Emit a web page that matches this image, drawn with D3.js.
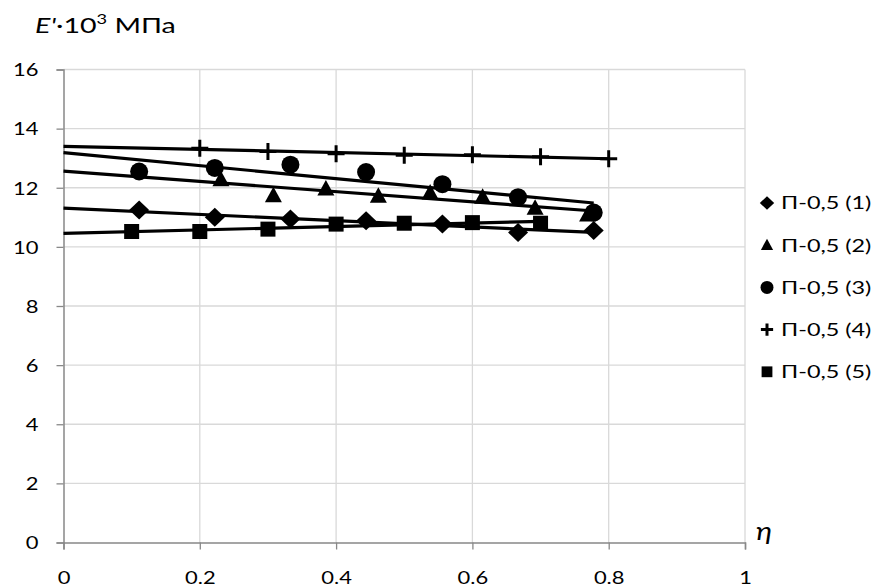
<!DOCTYPE html>
<html>
<head>
<meta charset="utf-8">
<script src="https://cdn.jsdelivr.net/npm/d3@7"></script>
<style>
  html, body { margin: 0; padding: 0; background: #fff; }
  svg { display: block; }
  text { font-family: Lato, "Open Sans", sans-serif; fill: #000; }
</style>
</head>
<body>
<script>
// ---- data ----
const seriesNames = ["П-0,5 (1)", "П-0,5 (2)", "П-0,5 (3)", "П-0,5 (4)", "П-0,5 (5)"];
const symbols = ["diamond", "triangle", "circle", "plus", "square"];
const eta1 = [0.111, 0.222, 0.333, 0.444, 0.556, 0.667, 0.778];
const val1 = [11.25, 11.0, 10.94, 10.88, 10.77, 10.49, 10.55];
const eta2 = [0.231, 0.308, 0.385, 0.462, 0.538, 0.615, 0.692, 0.769];
const val2 = [12.27, 11.73, 11.96, 11.71, 11.82, 11.68, 11.31, 11.08];
const eta3 = [0.111, 0.222, 0.333, 0.444, 0.556, 0.667, 0.778];
const val3 = [12.55, 12.67, 12.78, 12.53, 12.12, 11.68, 11.16];
const eta4 = [0.2, 0.3, 0.4, 0.5, 0.6, 0.7, 0.8];
const val4 = [13.34, 13.23, 13.15, 13.10, 13.12, 13.05, 12.98];
const eta5 = [0.1, 0.2, 0.3, 0.4, 0.5, 0.6, 0.7];
const val5 = [10.52, 10.52, 10.60, 10.77, 10.80, 10.82, 10.80];
const xTicks = [0, 0.2, 0.4, 0.6, 0.8, 1];
const xTickLabels = ["0", "0.2", "0.4", "0.6", "0.8", "1"];
const yTicks = [0, 2, 4, 6, 8, 10, 12, 14, 16];

const etas = [eta1, eta2, eta3, eta4, eta5];
const vals = [val1, val2, val3, val4, val5];

// ---- layout ----
const W = 880, H = 588;
const L = 63.5, R = 745, T = 69.5, B = 542.5;
const SX = 1.22; // horizontal stretch of the reference text

const svg = d3.select("body").append("svg").attr("width", W).attr("height", H);
const x = d3.scaleLinear().domain([0, 1]).range([L, R]);
const y = d3.scaleLinear().domain([0, 16]).range([B, T]);

// gridlines
svg.append("g").selectAll("line").data(yTicks.filter(d => d > 0)).join("line")
  .attr("x1", L).attr("x2", R).attr("y1", d => y(d)).attr("y2", d => y(d))
  .attr("stroke", "#d9d9d9").attr("stroke-width", 1.3);
svg.append("g").selectAll("line").data(xTicks.filter(d => d > 0)).join("line")
  .attr("y1", T).attr("y2", B).attr("x1", d => x(d)).attr("x2", d => x(d))
  .attr("stroke", "#d9d9d9").attr("stroke-width", 1.3);

// axes
const xAxis = d3.axisBottom(x).tickValues(xTicks).tickSize(7).tickFormat((d, i) => xTickLabels[i]);
const gx = svg.append("g").attr("transform", `translate(0,${B})`).call(xAxis);
gx.select(".domain").attr("stroke", "#888").attr("stroke-width", 1.5);
gx.selectAll(".tick line").attr("stroke", "#888").attr("stroke-width", 1.3);
gx.selectAll(".tick text").attr("font-size", 18).attr("dy", 0).attr("y", 0).attr("x", 0)
  .attr("transform", `translate(0,41) scale(${SX},1)`).attr("font-family", "Lato");

const yAxis = d3.axisLeft(y).tickValues(yTicks).tickSize(7);
const gy = svg.append("g").attr("transform", `translate(${L},0)`).call(yAxis);
gy.select(".domain").attr("stroke", "#888").attr("stroke-width", 1.5);
gy.selectAll(".tick line").attr("stroke", "#888").attr("stroke-width", 1.3);
gy.selectAll(".tick text").attr("font-size", 18).attr("dy", "0.35em").attr("x", 0)
  .attr("transform", `translate(-25,0) scale(${SX},1)`).attr("font-family", "Lato");

// trendlines (least squares, forecast back to 0)
function fit(xs, ys) {
  const mx = d3.mean(xs), my = d3.mean(ys);
  let sxy = 0, sxx = 0;
  xs.forEach((v, i) => { sxy += (v - mx) * (ys[i] - my); sxx += (v - mx) * (v - mx); });
  const b = sxy / sxx;
  return { a: my - b * mx, b };
}
const lineGen = d3.line().x(d => x(d[0])).y(d => y(d[1]));
etas.forEach((xs, i) => {
  const f = fit(xs, vals[i]);
  const x1 = d3.max(xs);
  svg.append("path").datum([[0, f.a], [x1, f.a + f.b * x1]])
    .attr("d", lineGen).attr("fill", "none").attr("stroke", "#000").attr("stroke-width", 3.2);
});

// markers
function drawMarker(g, type, cx, cy, s) {
  if (type === "diamond") {
    g.append("path").attr("d", `M${cx},${cy - 9.5 * s}L${cx + 10 * s},${cy}L${cx},${cy + 9.5 * s}L${cx - 10 * s},${cy}Z`).attr("fill", "#000");
  } else if (type === "triangle") {
    g.append("path").attr("d", `M${cx},${cy - 9 * s}L${cx + 8.5 * s},${cy + 6.5 * s}L${cx - 8.5 * s},${cy + 6.5 * s}Z`).attr("fill", "#000");
  } else if (type === "circle") {
    g.append("circle").attr("cx", cx).attr("cy", cy).attr("r", 9 * s).attr("fill", "#000");
  } else if (type === "square") {
    g.append("rect").attr("x", cx - 7.5 * s).attr("y", cy - 7.5 * s).attr("width", 15 * s).attr("height", 15 * s).attr("fill", "#000");
  } else if (type === "plus") {
    g.append("path").attr("d", `M${cx - 8.5 * s},${cy}H${cx + 8.5 * s}M${cx},${cy - 8.5 * s}V${cy + 8.5 * s}`)
      .attr("stroke", "#000").attr("stroke-width", 3).attr("fill", "none");
  }
}
etas.forEach((xs, i) => {
  const g = svg.append("g");
  xs.forEach((v, j) => drawMarker(g, symbols[i], x(v), y(vals[i][j]), 1));
});

// legend
const legRow0 = 203, legStep = 42.2;
seriesNames.forEach((name, i) => {
  const g = svg.append("g");
  const cy = legRow0 + i * legStep;
  drawMarker(g, symbols[i], 767, cy, 0.72);
  g.append("text").attr("x", 0).attr("y", 0).attr("dy", "0.35em")
    .attr("transform", `translate(781,${cy}) scale(1.3,1)`)
    .attr("font-size", 18).text(name);
});

// axis titles
const tt = svg.append("text").attr("x", 0).attr("y", 0).attr("font-size", 22)
  .attr("transform", "translate(35,33) scale(1.3,1)");
tt.append("tspan").attr("font-style", "italic").text("E'");
tt.append("tspan").text("·10");
tt.append("tspan").attr("font-size", 14).attr("dy", -9).text("3");
tt.append("tspan").attr("dy", 9).text(" МПа");

svg.append("text").attr("x", 0).attr("y", 0).attr("font-size", 26)
  .attr("transform", "translate(756,540) scale(1.15,1)")
  .attr("font-style", "italic").text("η");
</script>
</body>
</html>
